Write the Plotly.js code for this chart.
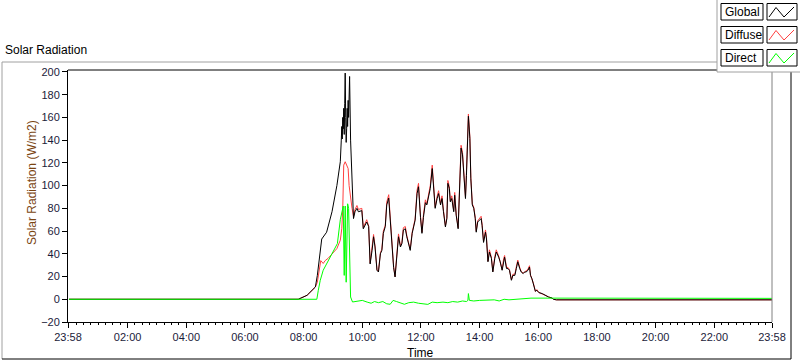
<!DOCTYPE html>
<html>
<head>
<meta charset="utf-8">
<script src="https://cdn.plot.ly/plotly-3.0.1.min.js"></script>
<style>
html,body{margin:0;padding:0;background:#fff;}
#chart{width:800px;height:361px;}
</style>
</head>
<body>
<div id="chart"></div>
<script>
// ---------- DATA ----------
const globalTimes = ["00:00","07:49","08:07","08:24","08:28","08:32","08:37","08:47","08:58","09:08","09:15","09:17","09:18","09:19","09:20","09:21","09:22","09:23","09:24","09:25","09:26","09:27","09:28","09:29","09:30","09:31","09:32","09:34","09:36","09:39","09:42","09:45","09:49","09:52","09:59","10:02","10:09","10:13","10:16","10:20","10:23","10:26","10:30","10:33","10:37","10:40","10:43","10:47","10:50","10:54","10:57","11:01","11:04","11:07","11:11","11:14","11:18","11:21","11:24","11:28","11:31","11:35","11:38","11:42","11:45","11:48","11:52","11:55","11:59","12:02","12:05","12:09","12:12","12:16","12:19","12:23","12:26","12:29","12:33","12:36","12:40","12:43","12:46","12:50","12:53","12:55","12:58","13:00","13:03","13:07","13:09","13:12","13:16","13:17","13:20","13:22","13:25","13:28","13:31","13:33","13:36","13:37","13:40","13:42","13:45","13:48","13:51","13:53","13:56","13:59","14:03","14:05","14:08","14:12","14:14","14:17","14:20","14:24","14:27","14:31","14:34","14:39","14:42","14:46","14:49","14:51","14:55","14:58","15:01","15:05","15:08","15:12","15:15","15:18","15:22","15:25","15:29","15:32","15:35","15:39","15:42","15:44","15:47","15:50","15:54","15:57","16:01","16:08","16:14","16:21","16:28","16:31","16:37","23:58"];
const globalVals = [0,0,3.5,10.8,21,34,53,59,77,100,121,140,152,141,160,150,168,145,172,199,160,138,150,168,152,175,160,196,140,94,71,77,80,77,78,62,68,64,31,43,55,46,25.5,24,40,43,58,64,83,89,72,43,28,19.6,37,55,46,49,61,62,55,49,43,58,65,69.5,93,99,72,58,72,85,83,91.5,97.5,115,94.5,80,88.6,93,83,88.6,77,63.6,71,102,97.5,85.7,88.6,77,91.5,74,62,77,102,133,127,103,88.6,109,147,161,141.5,106,83,80,71,59,68,69.5,71,65,50,59,53,33,41.6,36,24,36,41.6,37,33,25.5,34,37,27,27,25.5,16.7,21,21,27,33,27,24,22.6,24,24,25.5,28.4,21,18,13.8,7,7.9,5.9,5,3.5,2,1.1,0,-0.5,-0.5];

const diffuseTimes = ["00:00","07:49","08:07","08:24","08:28","08:32","08:35","08:40","08:44","08:50","09:01","09:08","09:15","09:18","09:20","09:22","09:25","09:28","09:31","09:33","09:36","09:39","09:42","09:45","09:49","09:52","09:59","10:02","10:09","10:13","10:16","10:20","10:23","10:26","10:30","10:33","10:37","10:40","10:43","10:47","10:50","10:54","10:57","11:01","11:04","11:07","11:11","11:14","11:18","11:21","11:24","11:28","11:31","11:35","11:38","11:42","11:45","11:48","11:52","11:55","11:59","12:02","12:05","12:09","12:12","12:16","12:19","12:23","12:26","12:29","12:33","12:36","12:40","12:43","12:46","12:50","12:53","12:55","12:58","13:00","13:03","13:07","13:09","13:12","13:16","13:17","13:20","13:22","13:25","13:28","13:31","13:33","13:36","13:37","13:40","13:42","13:45","13:48","13:51","13:53","13:56","13:59","14:03","14:05","14:08","14:12","14:14","14:17","14:20","14:24","14:27","14:31","14:34","14:39","14:42","14:46","14:49","14:51","14:55","14:58","15:01","15:05","15:08","15:12","15:15","15:18","15:22","15:25","15:29","15:32","15:35","15:39","15:42","15:44","15:47","15:50","15:54","15:57","16:01","16:08","16:14","16:21","16:28","16:31","16:37","23:58"];
const diffuseVals = [0,0,3.5,10.8,15,27,34,31.5,34,36,41.6,44.6,52,62,80,118,121,117,115,100,88,80,73,79,82.5,79,80,63,70,64.5,32,44,57,47,26,24.5,41,44,60,65,85.5,92,73,44,29,20,38,57.5,47,50,63,64,56,50,44,59,66,70.5,96,102,73,59,74,87.5,84,93,100,118,95.5,81,90.5,95.5,84,91,78,64.5,72,104.5,99,86.5,91,78,94,75,63,78,104,135.5,129,104,89.5,111.5,150,163,143,107,84,81,72,60,69,71,73,66,51,61,54,33.5,43.5,37,24.5,37.5,43.5,38,33.5,26,35.5,38.5,28,28,26,17,22,22,28.5,34.5,28,24.5,23,24.5,25,26.5,29.5,21.5,18.5,14,7,8.5,6,5,3.5,2,1.1,0,-0.5,-0.5];

const directTimes = ["00:00","08:27","08:30","08:34","08:40","08:51","09:01","09:09","09:15","09:18","09:21","09:23","09:25","09:27","09:30","09:32","09:34","09:36","09:40","09:50","10:00","10:10","10:18","10:25","10:33","10:42","10:50","10:57","11:03","11:10","11:18","11:26","11:35","11:45","11:55","12:05","12:14","12:23","12:33","12:45","12:55","13:05","13:15","13:25","13:33","13:36","13:37","13:39","13:48","14:00","14:15","14:30","14:40","14:50","15:00","15:15","15:30","15:45","16:30","23:58"];
const directVals = [0,0,7.9,16.7,25.5,34.3,41.6,49,70,78,82,21,82,15,84,80,40,2,-2.4,-1.5,-1,-2.5,-3.5,-2,-3,-2,-4,-4.4,-1,-2,-3,-4.4,-3,-2.5,-3.5,-4,-4.5,-2.5,-3,-2.5,-3,-2,-2.5,-1.5,-2,-1,5,-1,-1.5,-1,-0.8,-0.5,-1.5,0,-0.5,0,0.5,1,1,0.8];

const tickDates = ["2023-12-31 23:58","2024-01-01 02:00","2024-01-01 04:00","2024-01-01 06:00","2024-01-01 08:00","2024-01-01 10:00","2024-01-01 12:00","2024-01-01 14:00","2024-01-01 16:00","2024-01-01 18:00","2024-01-01 20:00","2024-01-01 22:00","2024-01-01 23:58"];
const tickText = ["23:58","02:00","04:00","06:00","08:00","10:00","12:00","14:00","16:00","18:00","20:00","22:00","23:58"];
const yTicks = [-20,0,20,40,60,80,100,120,140,160,180,200];

const seriesNames = ["Global","Diffuse","Direct"];
const seriesColors = ["#000000","#ff4040","#00ff00"];

// ---------- BUILD ----------
const day = "2024-01-01 ";
const toDate = arr => arr.map(t => day + t);

// layout geometry (pixels)
const W = 800, H = 361, L = 68, R = 772, T = 70, B = 322;
const px = x => (x - L) / (R - L);
const py = y => (B - y) / (B - T);

const traces = [
  {x: toDate(diffuseTimes), y: diffuseVals, name: seriesNames[1], type: "scatter", mode: "lines",
   line: {color: seriesColors[1], width: 1}, hoverinfo: "skip"},
  {x: toDate(globalTimes), y: globalVals, name: seriesNames[0], type: "scatter", mode: "lines",
   line: {color: seriesColors[0], width: 1}, hoverinfo: "skip"},
  {x: toDate(directTimes), y: directVals, name: seriesNames[2], type: "scatter", mode: "lines",
   line: {color: seriesColors[2], width: 1}, hoverinfo: "skip"}
];

const gray = "#a0a0a0";
const line = (x0, y0, x1, y1, color) => ({type: "line", xref: "paper", yref: "paper",
  x0: px(x0), y0: py(y0), x1: px(x1), y1: py(y1), line: {color: color, width: 1}, layer: "above"});

const shapes = [
  line(2, 62, 717, 62, gray),
  line(2, 62, 2, 359, gray),
  line(2, 359, 791, 359, "#000"),
  line(791, 72, 791, 359, "#000"),
  line(L, T, R, T, "#000"),
  line(R, T, R, B, "#808080"),
  {type: "rect", xref: "paper", yref: "paper", x0: px(717), y0: py(72), x1: px(801), y1: py(-1),
   fillcolor: "#fff", line: {width: 0}, layer: "above"},
  line(717, 0, 717, 72, gray),
  line(717, 72, 800, 72, gray)
];

const annotations = [
  {text: "Solar Radiation", xref: "paper", yref: "paper", x: px(3), y: py(50), xanchor: "left", yanchor: "middle",
   showarrow: false, font: {size: 12, color: "#000"}},
  {text: "Solar Radiation (W/m2)", xref: "paper", yref: "paper", x: px(32), y: py(183), xanchor: "center", yanchor: "middle",
   textangle: -90, showarrow: false, font: {size: 12, color: "#7a4512"}},
  {text: "Time", xref: "paper", yref: "paper", x: px(420), y: py(353), xanchor: "center", yanchor: "middle",
   showarrow: false, font: {size: 12, color: "#000"}}
];

const rowTop = [3.5, 26.5, 49.5];
const rowH = 16.5;
seriesNames.forEach((nm, i) => {
  const y0 = rowTop[i], y1 = y0 + rowH;
  shapes.push({type: "rect", xref: "paper", yref: "paper", x0: px(721), x1: px(763), y0: py(y1), y1: py(y0),
    fillcolor: "#fff", line: {color: "#000", width: 1}, layer: "above"});
  shapes.push({type: "rect", xref: "paper", yref: "paper", x0: px(767), x1: px(797), y0: py(y1), y1: py(y0),
    fillcolor: "#fff", line: {color: "#000", width: 1}, layer: "above"});
  const zz = [[769, y1 - 3], [776, y0 + 4], [784, y1 - 3], [794, y0 + 3.5]];
  const path = zz.map((p, k) => (k ? "L" : "M") + px(p[0]) + "," + py(p[1])).join(" ");
  shapes.push({type: "path", xref: "paper", yref: "paper", path: path,
    line: {color: seriesColors[i], width: 1}, layer: "above"});
  annotations.push({text: nm, xref: "paper", yref: "paper", x: px(723), y: py((y0 + y1) / 2),
    xanchor: "left", yanchor: "middle", showarrow: false, font: {size: 12, color: "#000"}});
});

const tickFont = {size: 11, color: "#1b1b3a"};

const layout = {
  width: W, height: H,
  margin: {l: L, r: W - R, t: T, b: H - B, pad: 0},
  paper_bgcolor: "#fff", plot_bgcolor: "#fff",
  font: {family: "Liberation Sans, Arial, sans-serif", size: 12, color: "#000"},
  showlegend: false,
  xaxis: {
    type: "date",
    range: ["2023-12-31 23:58", "2024-01-01 23:58"],
    tickmode: "array", tickvals: tickDates, ticktext: tickText,
    ticks: "outside", ticklen: 5, tickcolor: "#000", tickwidth: 1,
    minor: {tickmode: "linear", tick0: "2024-01-01 00:00", dtick: 900000, ticks: "outside", ticklen: 2, tickcolor: "#000", showgrid: false},
    showline: true, linecolor: "#000", linewidth: 1,
    showgrid: false, zeroline: false, tickfont: tickFont, fixedrange: true
  },
  yaxis: {
    range: [-20, 201.7],
    tickmode: "array", tickvals: yTicks,
    ticks: "outside", ticklen: 5, tickcolor: "#000", tickwidth: 1,
    showline: true, linecolor: "#000", linewidth: 1,
    showgrid: false, zeroline: false, tickfont: tickFont, fixedrange: true
  },
  shapes: shapes,
  annotations: annotations
};

Plotly.newPlot("chart", traces, layout, {displayModeBar: false, staticPlot: true});
</script>
</body>
</html>
